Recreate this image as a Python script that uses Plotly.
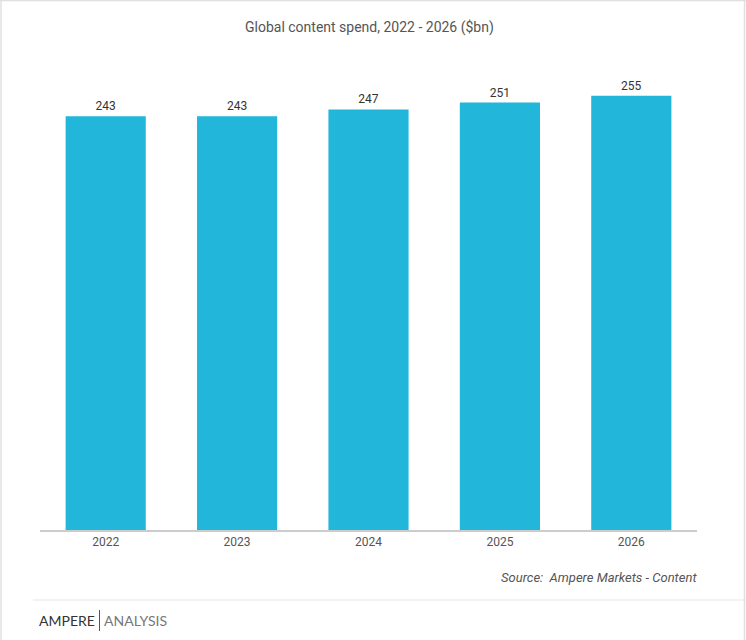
import plotly.graph_objects as go

years = ["2022", "2023", "2024", "2025", "2026"]
spend = [243, 243, 247, 251, 255]

W, H = 746, 640
def px(x): return x / W
def py(y): return 1 - y / H

fig = go.Figure()
fig.add_trace(go.Bar(
    x=years, y=spend, marker=dict(color="#22B6DB", line=dict(width=0)),
    text=[str(v) for v in spend], textposition="outside",
    textfont=dict(family="Roboto", size=12, color="#333333"),
    cliponaxis=False, hoverinfo="skip",
))

fig.update_layout(
    width=W, height=H, margin=dict(l=0, r=0, t=0, b=0),
    paper_bgcolor="white", plot_bgcolor="white",
    showlegend=False, bargap=0.39,
    font=dict(family="Roboto", color="#555555"),
    xaxis=dict(domain=[px(40), px(697)], showgrid=False, zeroline=False,
               showline=True, linecolor="#cccccc", linewidth=1.5,
               ticks="", tickfont=dict(family="Roboto", size=12, color="#555555")),
    yaxis=dict(domain=[py(530), py(60)], range=[0, 276], visible=False),
)

def note(text, x, y, size, color, family="Roboto", xanchor="center"):
    fig.add_annotation(text=text, x=px(x), y=py(y), xref="paper", yref="paper",
                       showarrow=False, xanchor=xanchor, yanchor="middle",
                       font=dict(family=family, size=size, color=color))

note("Global content spend, 2022 - 2026 ($bn)", 369, 27, 14, "#555555")
note("<i>Source:  Ampere Markets - Content</i>", 699, 577, 13, "#555555", xanchor="right")
note("AMPERE", 37, 620, 14, "#333333", family="Lato", xanchor="left")
note("ANALYSIS", 102, 620, 14, "#777777", family="Lato", xanchor="left")

shapes = [
    dict(type="line", x0=px(33), x1=px(746), y0=py(600), y1=py(600), line=dict(color="#eeeeee", width=1.5)),
    dict(type="line", x0=px(99.5), x1=px(99.5), y0=py(610), y1=py(631), line=dict(color="#555555", width=1)),
    dict(type="line", x0=0, x1=1, y0=py(0.5), y1=py(0.5), line=dict(color="#e0e0e0", width=1.5)),
    dict(type="line", x0=px(1), x1=px(1), y0=0, y1=1, line=dict(color="#e0e0e0", width=1.5)),
    dict(type="line", x0=px(744.5), x1=px(744.5), y0=0, y1=1, line=dict(color="#e0e0e0", width=1.5)),
]
for s in shapes:
    s.update(xref="paper", yref="paper")
fig.update_layout(shapes=shapes)

fig.write_html("out.html", config={"displayModeBar": False},
               post_script="document.body.style.margin='0';document.body.style.overflow='hidden';")
